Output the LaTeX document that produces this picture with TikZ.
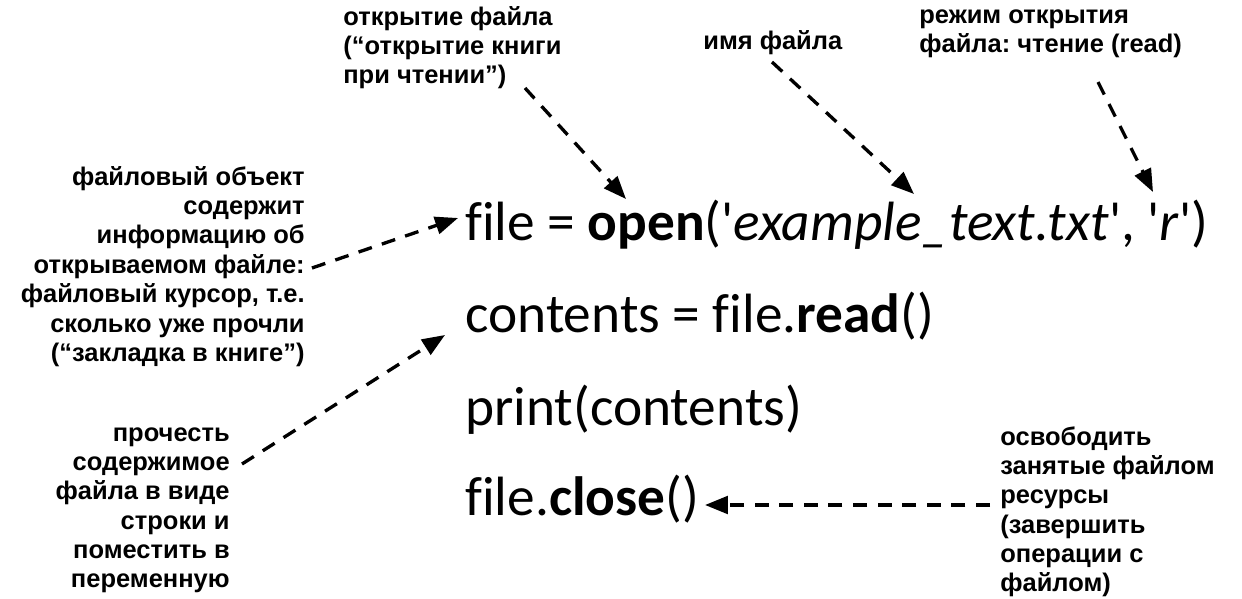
\documentclass[tikz,border=0pt]{standalone}
\usepackage{fontspec}
\setmainfont{Liberation Sans}
\newfontfamily\codefont{Carlito}[Ligatures={TeXOff,NoCommon}]
\usetikzlibrary{arrows.meta}
\frenchspacing

\tikzset{
  note/.style={font=\bfseries\fontsize{14.5}{16.7}\selectfont, inner sep=0pt},
  code/.style={font=\codefont\fontsize{31.5}{36}\selectfont, anchor=base west, inner sep=0pt},
  ptr/.style={-{Triangle[length=13pt,width=10pt]}, black, line width=1.9pt, dash pattern=on 8pt off 6pt}
}

\begin{document}
\begin{tikzpicture}[x=0.02cm,y=-0.02cm]
  \useasboundingbox (0,0) rectangle (1242,599);

  % code lines
  \node[code] (fopen)  at (465,240) {file = \textbf{open}('\textit{example\_text.txt}', '\textit{r}')};
  \node[code] (fread)  at (465,332) {contents = file.\textbf{read}()};
  \node[code] (fprint) at (465,425) {print(contents)};
  \node[code] (fclose) at (465,515) {file.\textbf{close}()};

  % notes
  \node[note, align=right, anchor=north east] (nobj) at (305,166) {файловый объект\\содержит\\информацию об\\открываемом файле:\\файловый курсор, т.е.\\сколько уже прочли\\(“закладка в книге”)};
  \node[note, align=left, anchor=north west] (nopen) at (343,6) {открытие файла\\(“открытие книги\\при чтении”)};
  \node[note, anchor=north west] (nname) at (703,30) {имя файла};
  \node[note, align=left, anchor=north west] (nmode) at (919,9) {режим открытия\\файла: чтение (read)};
  \node[note, align=right, anchor=north east] (nread) at (230,427) {прочесть\\содержимое\\файла в виде\\строки и\\поместить в\\переменную};
  \node[note, align=left, anchor=north west] (nclose) at (1000,426) {освободить\\занятые файлом\\ресурсы\\(завершить\\операции с\\файлом)};

  % arrow ends
  \coordinate (sobj)   at (312,268);
  \coordinate (tobj)   at (458,218);
  \coordinate (sopen)  at (525,88);
  \coordinate (topen)  at (626,199);
  \coordinate (sname)  at (772,62);
  \coordinate (tname)  at (914,194);
  \coordinate (smode)  at (1098,82);
  \coordinate (tmode)  at (1153,192);
  \coordinate (sread)  at (242,464);
  \coordinate (tread)  at (445,335);
  \coordinate (sclose) at (990,505);
  \coordinate (tclose) at (705,505);

  \draw[ptr] (sobj) -- (tobj);
  \draw[ptr] (sopen) -- (topen);
  \draw[ptr] (sname) -- (tname);
  \draw[ptr] (smode) -- (tmode);
  \draw[ptr] (sread) -- (tread);
  \draw[ptr] (sclose) -- (tclose);
\end{tikzpicture}
\end{document}
